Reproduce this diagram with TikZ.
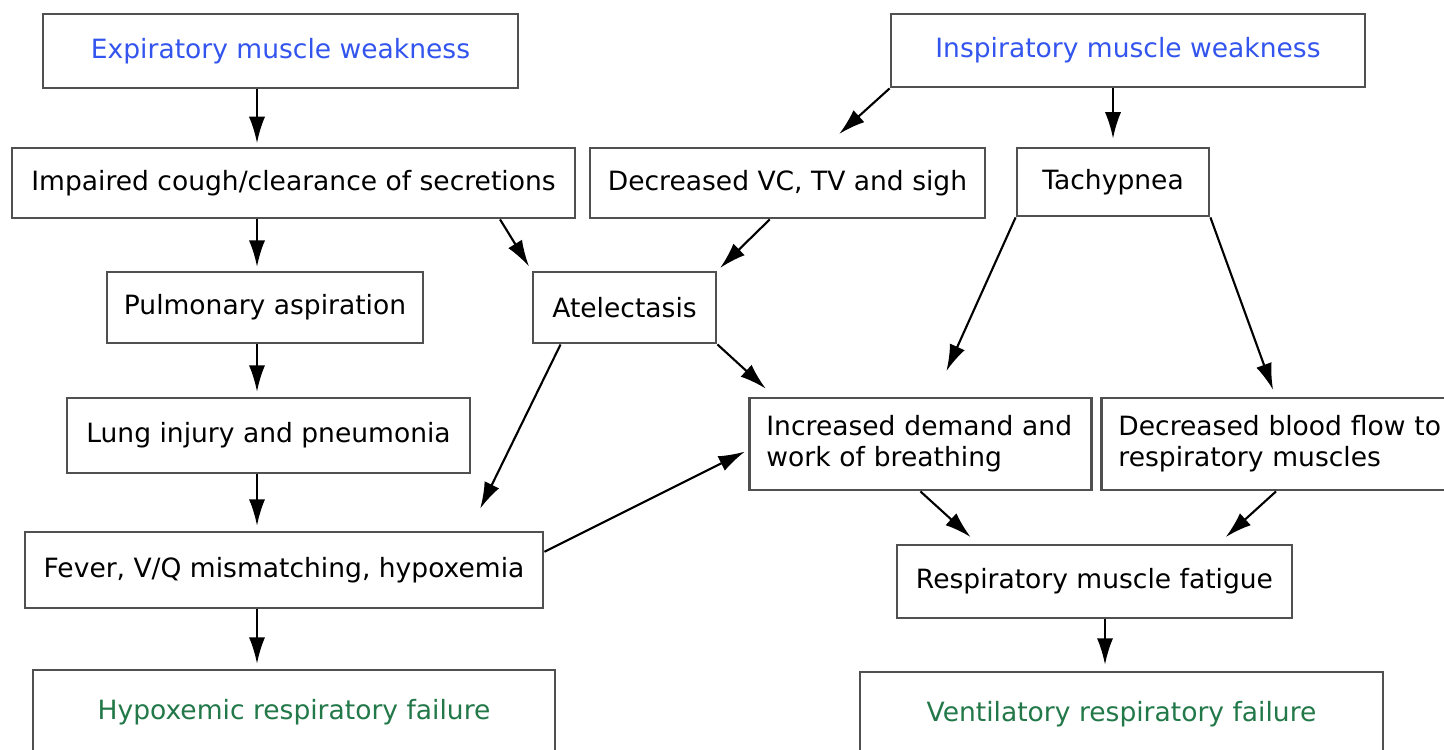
\documentclass[tikz,border=0pt]{standalone}
\usepackage{fontspec}
\setmainfont{DejaVu Sans}
\usetikzlibrary{arrows.meta}

\definecolor{causeblue}{RGB}{51,85,238}
\definecolor{failgreen}{RGB}{34,120,72}
\definecolor{boxgray}{RGB}{80,80,80}

\tikzset{
    box/.style={draw=boxgray, line width=0.8pt, inner sep=0pt, align=center,
        font=\fontsize{7.55}{8.8}\selectfont},
    leftbox/.style={box, anchor=west, inner xsep=0.17cm, minimum height=0.92cm, align=left},
    arr/.style={-{Latex[length=7.5pt,width=4.6pt]}, line width=0.6pt},
}

\begin{document}
\begin{tikzpicture}
        \useasboundingbox (0, 0) rectangle (14.44, -7.49);

        % Pieces
        \node[box, minimum width=4.75cm, minimum height=0.74cm, text=causeblue] (exp) at (2.805, -0.51) {Expiratory muscle weakness};
        \node[box, minimum width=4.74cm, minimum height=0.73cm, text=causeblue] (insp) at (11.28, -0.505) {Inspiratory muscle weakness};
        \node[box, minimum width=5.63cm, minimum height=0.70cm] (imp) at (2.935, -1.83) {Impaired cough/clearance of secretions};
        \node[box, minimum width=3.95cm, minimum height=0.70cm] (dvc) at (7.875, -1.83) {Decreased VC, TV and sigh};
        \node[box, minimum width=1.92cm, minimum height=0.68cm] (tachy) at (11.13, -1.82) {Tachypnea};
        \node[box, minimum width=3.16cm, minimum height=0.71cm] (asp) at (2.65, -3.075) {Pulmonary aspiration};
        \node[box, minimum width=1.83cm, minimum height=0.71cm] (atel) at (6.245, -3.075) {Atelectasis};
        \node[box, minimum width=4.03cm, minimum height=0.75cm] (lung) at (2.685, -4.355) {Lung injury and pneumonia};
        \node[leftbox, text width=3.08cm] (work) at (7.48, -4.44) {Increased demand and\\work of breathing};
        \node[leftbox, text width=3.35cm] (flow) at (11.00, -4.44) {Decreased blood flow to\\respiratory muscles};
        \node[box, minimum width=5.18cm, minimum height=0.76cm] (fever) at (2.84, -5.70) {Fever, V/Q mismatching, hypoxemia};
        \node[box, minimum width=3.95cm, minimum height=0.73cm] (fat) at (10.945, -5.815) {Respiratory muscle fatigue};
        \node[box, minimum width=5.22cm, minimum height=0.84cm, text=failgreen] (hyp) at (2.94, -7.12) {Hypoxemic respiratory failure};
        \node[box, minimum width=5.23cm, minimum height=0.84cm, text=failgreen] (vent) at (11.215, -7.14) {Ventilatory respiratory failure};

        % Columns of the straight arrows
        \coordinate (spine) at (2.57, 0);
        \coordinate (col) at (11.05, 0);
        \coordinate (flowtop) at (12.76, -3.98);

        % Arrows
        \draw[arr, shorten >=1pt] (exp.south -| spine) -- (imp.north -| spine);
        \draw[arr, shorten >=1.1pt] (imp.south -| spine) -- (asp.north -| spine);
        \draw[arr, shorten >=1.4pt] (asp.south -| spine) -- (lung.north -| spine);
        \draw[arr, shorten >=1.4pt] (lung.south -| spine) -- (fever.north -| spine);
        \draw[arr, shorten >=1.4pt] (fever.south -| spine) -- (hyp.north -| spine);
        \draw[arr, shorten >=5.4pt] (insp.south west) -- (dvc.44);
        \draw[arr, shorten >=2.3pt] (insp.south -| tachy.north) -- (tachy.north);
        \draw[arr, shorten >=1.4pt] (imp.-10.6) -- (atel.north west);
        \draw[arr, shorten >=1.1pt] (dvc.-116.6) -- (atel.north east);
        \draw[arr, shorten >=8pt] (tachy.south west) -- (work.73);
        \draw[arr, shorten >=2.5pt] (tachy.south east) -- (flowtop);
        \draw[arr, shorten >=3.4pt] (atel.south east) -- (work.162.4);
        \draw[arr, shorten >=7pt] (atel.-150.4) -- (fever.12);
        \draw[arr, shorten >=1pt] (fever.4) -- (work.182);
        \draw[arr, shorten >=2.8pt] (work.south) -- (fat.162.7);
        \draw[arr, shorten >=2.8pt] (flow.south -| flowtop) -- (fat.17.5);
        \draw[arr, shorten >=1.7pt] (fat.south -| col) -- (vent.north -| col);
    \end{tikzpicture}
\end{document}
